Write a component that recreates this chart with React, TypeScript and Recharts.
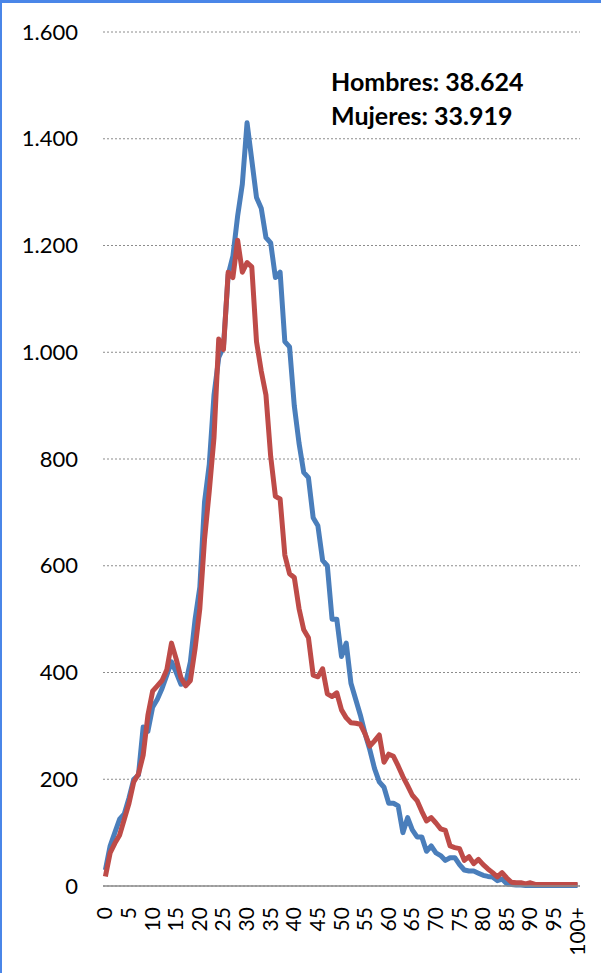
import React from 'react';
import { LineChart, Line, XAxis, YAxis, CartesianGrid } from 'recharts';

const ages: string[] = Array.from({ length: 101 }, (_, i) => (i === 100 ? '100+' : String(i)));

const hombres = [
  30, 75, 100, 125, 135, 165, 200, 208, 298, 290,
  335, 350, 370, 395, 420, 400, 378, 380, 420, 500,
  560, 720, 790, 920, 990, 1010, 1145, 1180, 1255, 1315,
  1430, 1360, 1290, 1270, 1215, 1205, 1140, 1150, 1020, 1010,
  900, 830, 775, 765, 690, 675, 610, 600, 500, 500,
  430, 455, 380, 350, 320, 285, 255, 220, 195, 185,
  155, 155, 150, 100, 128, 105, 92, 92, 65, 75,
  62, 57, 48, 53, 53, 40, 30, 28, 28, 24,
  20, 18, 17, 10, 13, 4, 3, 2, 2, 1,
  1, 1, 1, 1, 1, 1, 1, 1, 1, 1, 1,
];

const mujeres = [
  18, 62, 80, 95, 125, 155, 195, 210, 245, 320,
  365, 375, 385, 405, 455, 425, 390, 375, 385, 445,
  520, 650, 740, 840, 1025, 1005, 1150, 1140, 1210, 1150,
  1168, 1160, 1020, 965, 920, 805, 730, 725, 620, 585,
  578, 520, 480, 465, 395, 392, 407, 360, 355, 362,
  330, 315, 306, 305, 303, 285, 262, 272, 283, 232,
  247, 243, 225, 205, 188, 170, 160, 140, 122, 128,
  118, 107, 104, 75, 72, 70, 48, 55, 42, 50,
  40, 32, 25, 17, 25, 15, 7, 6, 6, 4,
  6, 3, 3, 3, 3, 3, 3, 3, 3, 3, 3,
];

const xTicks = ['0', '5', '10', '15', '20', '25', '30', '35', '40', '45', '50', '55', '60', '65', '70', '75', '80', '85', '90', '95', '100+'];
const yTicks = [0, 200, 400, 600, 800, 1000, 1200, 1400, 1600];

const totalHombres = 'Hombres: 38.624';
const totalMujeres = 'Mujeres: 33.919';

const data = ages.map((a, i) => ({ age: a, hombres: hombres[i], mujeres: mujeres[i] }));

const FONT = 'Lato, "Open Sans", sans-serif';

const fmt = (v: number) =>
  v >= 1000 ? `${Math.floor(v / 1000)}.${String(v % 1000).padStart(3, '0')}` : String(v);

const XTick = (props: any) => {
  const { x, payload } = props;
  const tx = x + 7;
  const ty = 907;
  return (
    <text x={tx} y={ty} transform={`rotate(-90, ${tx}, ${ty})`} textAnchor="end" fontSize={21} fill="#000" fontFamily={FONT}>
      {payload.value}
    </text>
  );
};

const YTick = (props: any) => {
  const { y, payload } = props;
  return (
    <text x={78} y={y} dy="0.35em" textAnchor="end" fontSize={22} fill="#000" fontFamily={FONT}>
      {fmt(payload.value)}
    </text>
  );
};

export default function App() {
  return (
    <div style={{ position: 'absolute', left: 0, top: 0, width: 601, height: 973, background: '#fff', overflow: 'hidden' }}>
      <LineChart width={601} height={973} data={data} margin={{ top: 32, right: 21, bottom: 0, left: 0 }}>
        <CartesianGrid vertical={false} stroke="#8c8c8c" strokeDasharray="2 2" />
        <XAxis
          dataKey="age"
          ticks={xTicks}
          interval={0}
          height={87}
          tick={<XTick />}
          tickLine={false}
          axisLine={{ stroke: '#8c8c8c', strokeWidth: 1.5 }}
          padding={{ left: 2.4, right: 2.4 }}
        />
        <YAxis
          domain={[0, 1600]}
          ticks={yTicks}
          width={103}
          tick={<YTick />}
          tickLine={false}
          axisLine={false}
        />
        <Line type="linear" dataKey="hombres" stroke="#4a7ebb" strokeWidth={5} dot={false} strokeLinejoin="round" isAnimationActive={false} />
        <Line type="linear" dataKey="mujeres" stroke="#be4b48" strokeWidth={5} dot={false} strokeLinejoin="round" isAnimationActive={false} />
      </LineChart>
      <div
        style={{
          position: 'absolute',
          left: 331,
          top: 64,
          fontFamily: FONT,
          fontWeight: 'bold',
          fontSize: 25,
          lineHeight: '34px',
          color: '#000',
          whiteSpace: 'pre',
        }}
      >
        <div>{totalHombres}</div>
        <div>{totalMujeres}</div>
      </div>
      <div style={{ position: 'absolute', left: 0, top: 0, width: 601, height: 3, background: '#4a86e8' }} />
      <div style={{ position: 'absolute', left: 0, top: 0, width: 2, height: 973, background: '#4a86e8' }} />
    </div>
  );
}
